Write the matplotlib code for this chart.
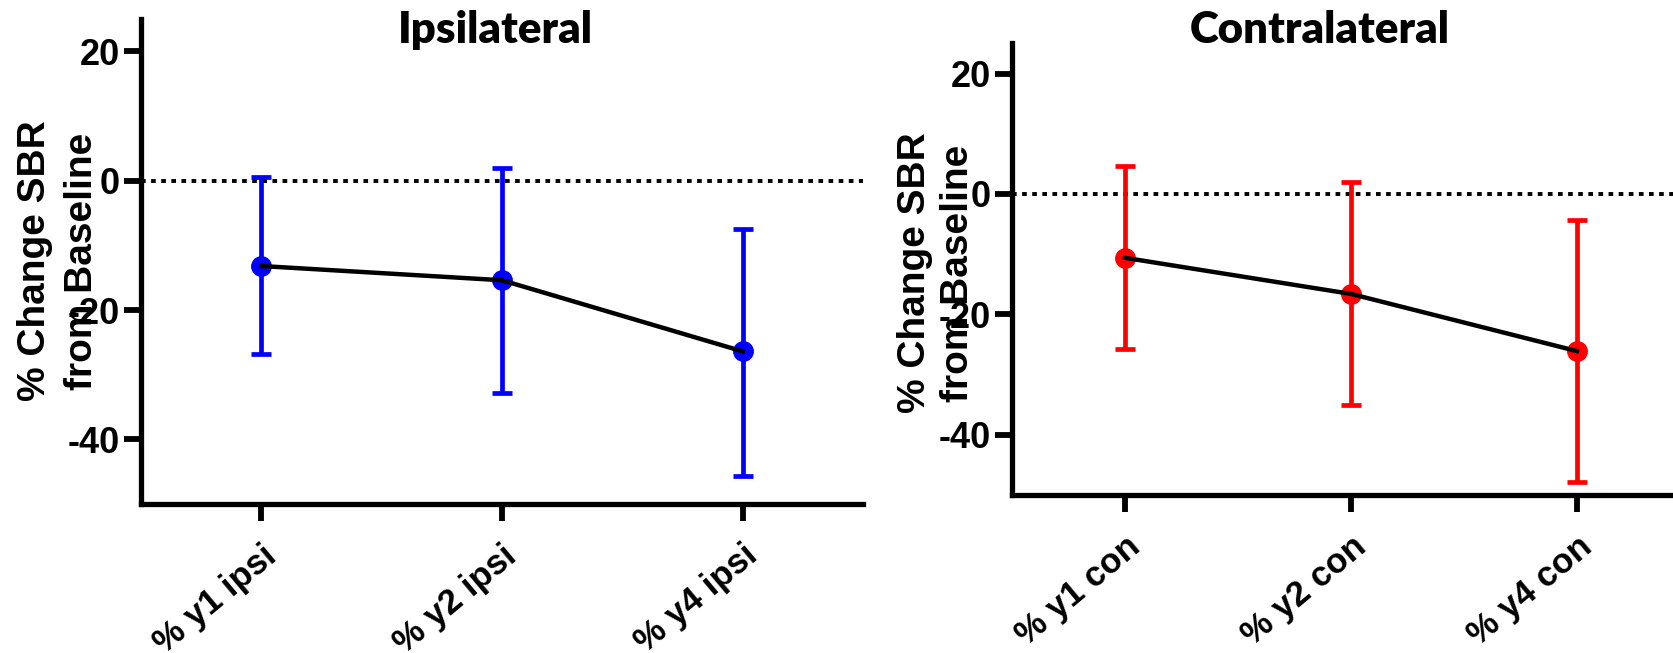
import matplotlib
matplotlib.use('Agg')
import matplotlib.pyplot as plt

# data
ipsi_labels = ['% y1 ipsi', '% y2 ipsi', '% y4 ipsi']
ipsi_mean = [-13.2, -15.4, -26.4]
ipsi_upper = [0.6, 1.9, -7.4]
ipsi_lower = [-26.8, -32.8, -45.6]

con_labels = ['% y1 con', '% y2 con', '% y4 con']
con_mean = [-10.6, -16.6, -26.1]
con_upper = [4.6, 2.0, -4.3]
con_lower = [-25.7, -35.0, -47.9]

yticks = [-40, -20, 0, 20]
ytick_labels = ['-40', '-20', '0', '20']

W, H = 1673, 653
fig = plt.figure(figsize=(W / 100, H / 100), dpi=100)

label_font = 'Liberation Sans'
title_font = ['Lato', 'DejaVu Sans']


def draw_panel(rect, labels, mean, upper, lower, color):
    ax = fig.add_axes(rect)
    x = list(range(len(labels)))
    yerr = [[m - lo for m, lo in zip(mean, lower)],
            [up - m for m, up in zip(mean, upper)]]
    ax.axhline(0, color='black', linestyle=(0, (1.2, 1.4)), linewidth=2.8, zorder=1)
    ax.errorbar(x, mean, yerr=yerr, fmt='o', color=color, ecolor=color,
                elinewidth=3.4, capsize=7.5, capthick=3.4, markersize=14, zorder=2)
    ax.plot(x, mean, color='black', linewidth=3.2, zorder=3)
    ax.set_xlim(-0.5, len(labels) - 0.5)
    ax.set_ylim(-50, 25)
    for side in ['top', 'right']:
        ax.spines[side].set_visible(False)
    for side in ['left', 'bottom']:
        ax.spines[side].set_linewidth(3.8)
    ax.tick_params(axis='both', length=12, width=4.2, direction='out')
    ax.tick_params(axis='y', pad=3)
    ax.tick_params(axis='x', pad=13)
    ax.set_yticks(yticks)
    ax.set_yticklabels(ytick_labels, fontsize=26, fontweight='bold', family=label_font)
    ax.set_xticks(x)
    ax.set_xticklabels(labels, fontsize=25, fontweight='bold', family=label_font,
                       rotation=40, ha='right', rotation_mode='anchor')
    return ax


draw_panel([141 / W, 1 - 504 / H, 722 / W, 485 / H],
           ipsi_labels, ipsi_mean, ipsi_upper, ipsi_lower, '#0000ff')
draw_panel([1012 / W, 1 - 495 / H, 678 / W, 451.5 / H],
           con_labels, con_mean, con_upper, con_lower, '#ff0000')

# titles
fig.text(495 / W, 1 - 43 / H, 'Ipsilateral', ha='center', va='baseline',
         fontsize=31.5, fontweight='heavy', family=title_font)
fig.text(1320 / W, 1 - 43 / H, 'Contralateral', ha='center', va='baseline',
         fontsize=31.5, fontweight='heavy', family=title_font)

# y labels (two lines each)
for bx1, bx2, cy in [(45, 92, 261), (925, 968, 273)]:
    fig.text(bx1 / W, 1 - cy / H, '% Change SBR', rotation=90, rotation_mode='anchor',
             ha='center', va='baseline', fontsize=28, fontweight='bold', family=label_font)
    fig.text(bx2 / W, 1 - cy / H, 'from Baseline', rotation=90, rotation_mode='anchor',
             ha='center', va='baseline', fontsize=28, fontweight='bold', family=label_font)

fig.savefig('out.png', dpi=100)
